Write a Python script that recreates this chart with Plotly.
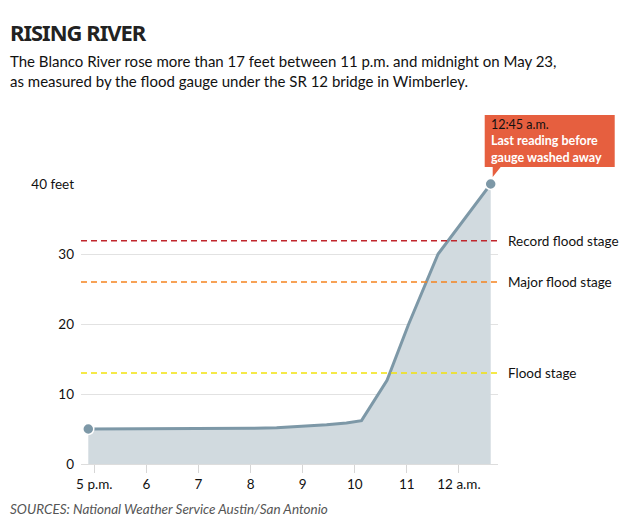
import plotly.graph_objects as go

# gauge readings, hours after midnight of the previous day (17 = 5 p.m., 24 = 12 a.m.)
hours = [16.885, 17.5, 18.0, 18.5, 19.0, 19.5, 20.0, 20.5, 20.82, 21.2, 21.46,
         21.84, 22.13, 22.62, 23.03, 23.6, 24.61]
feet = [5.0, 5.0, 5.0, 5.02, 5.04, 5.07, 5.1, 5.17, 5.3, 5.42, 5.6,
        5.86, 6.19, 11.95, 19.9, 30.0, 40.0]

tick_hours = [17, 18, 19, 20, 21, 22, 23, 24]
tick_labels = ["5 p.m.", "6", "7", "8", "9", "10", "11", "12 a.m."]

y_ticks = [0, 10, 20, 30, 40]
y_labels = ["0", "10", "20", "30", "40 feet"]

stage_names = ["Record flood stage", "Major flood stage", "Flood stage"]
stage_feet = [31.9, 26, 13]
stage_colors = ["#c0262d", "#f5841f", "#f2e20c"]

LINE = "#7d98a7"
FILL = "#d1dadf"
FONT = "Lato"
XR = [16.745, 24.75]
YR = [0, 40]

fig = go.Figure()

fig.add_trace(go.Scatter(
    x=hours, y=feet,
    mode="lines",
    line=dict(color=LINE, width=3),
    fill="tozeroy",
    fillcolor=FILL,
    hoverinfo="skip",
))

# dots on first and last reading
fig.add_trace(go.Scatter(
    x=[hours[0], hours[-1]], y=[feet[0], feet[-1]],
    mode="markers",
    marker=dict(color=LINE, size=11, line=dict(color="white", width=1.5)),
    cliponaxis=False,
    hoverinfo="skip",
))

for name, val, col in zip(stage_names, stage_feet, stage_colors):
    fig.add_shape(type="line", xref="paper", x0=0, x1=1, yref="y", y0=val, y1=val,
                  line=dict(color=col, width=1.5, dash="6px,4px"), layer="above")
    fig.add_annotation(xref="paper", x=1, y=val, xanchor="left", yanchor="middle",
                       xshift=8, text=name, showarrow=False,
                       font=dict(family=FONT, size=13.5, color="#111"))

# callout box with pointer at the last reading (paper refs so it is not clipped)
last_px = (hours[-1] - XR[0]) / (XR[1] - XR[0])
last_py = (feet[-1] - YR[0]) / (YR[1] - YR[0])
fig.add_shape(type="path", xref="paper", yref="paper",
              xsizemode="pixel", ysizemode="pixel",
              xanchor=last_px, yanchor=last_py,
              path="M -6,17 L -6,69 L 124,69 L 124,17 L 10,17 L 2,7 L 2,17 Z",
              fillcolor="#e65f3f", line=dict(width=0), layer="above")
fig.add_annotation(x=hours[-1], y=feet[-1], xanchor="left", yanchor="bottom",
                   xshift=-2, yshift=17, align="left", showarrow=False,
                   text="12:45 a.m.<br><span style='color:white'><b>Last reading before"
                        "<br>gauge washed away</b></span>",
                   font=dict(family=FONT, size=12.5, color="#111"))

fig.add_annotation(xref="paper", yref="paper", x=-0.175, y=1.605, xanchor="left",
                   yanchor="top", showarrow=False,
                   text="<b><span style='letter-spacing:-1px'>RISING RIVER</span></b>",
                   font=dict(family="Noto Sans, sans-serif", size=22, color="#222"))
fig.add_annotation(xref="paper", yref="paper", x=-0.175, y=1.48, xanchor="left",
                   yanchor="top", showarrow=False, align="left",
                   text="The Blanco River rose more than 17 feet between 11 p.m. and midnight on May 23,"
                        "<br>as measured by the flood gauge under the SR 12 bridge in Wimberley.",
                   font=dict(family=FONT, size=15, color="#111"))
fig.add_annotation(xref="paper", yref="paper", x=-0.175, y=-0.16, xanchor="left",
                   yanchor="middle", showarrow=False,
                   text="<i>SOURCES: National Weather Service Austin/San Antonio</i>",
                   font=dict(family=FONT, size=13.5, color="#555"))

# page has an 8px body margin, so the figure is drawn 8px smaller and offset
fig.update_layout(
    width=632, height=515,
    margin=dict(l=73, r=142, t=176, b=59),
    plot_bgcolor="white", paper_bgcolor="white",
    showlegend=False,
    font=dict(family=FONT, size=13.5, color="#111"),
    xaxis=dict(
        range=XR,
        tickvals=tick_hours, ticktext=tick_labels,
        showgrid=False, zeroline=False,
        ticks="outside", ticklen=8, tickcolor="#d6d6d6", tickwidth=1,
        showline=True, linecolor="#dddddd", linewidth=1,
    ),
    yaxis=dict(
        range=YR,
        tickvals=y_ticks, ticktext=y_labels,
        showgrid=True, gridcolor="#e2e2e2", gridwidth=1,
        zeroline=False, ticks="", ticklabelstandoff=6,
    ),
)

fig.write_html("out.html")
